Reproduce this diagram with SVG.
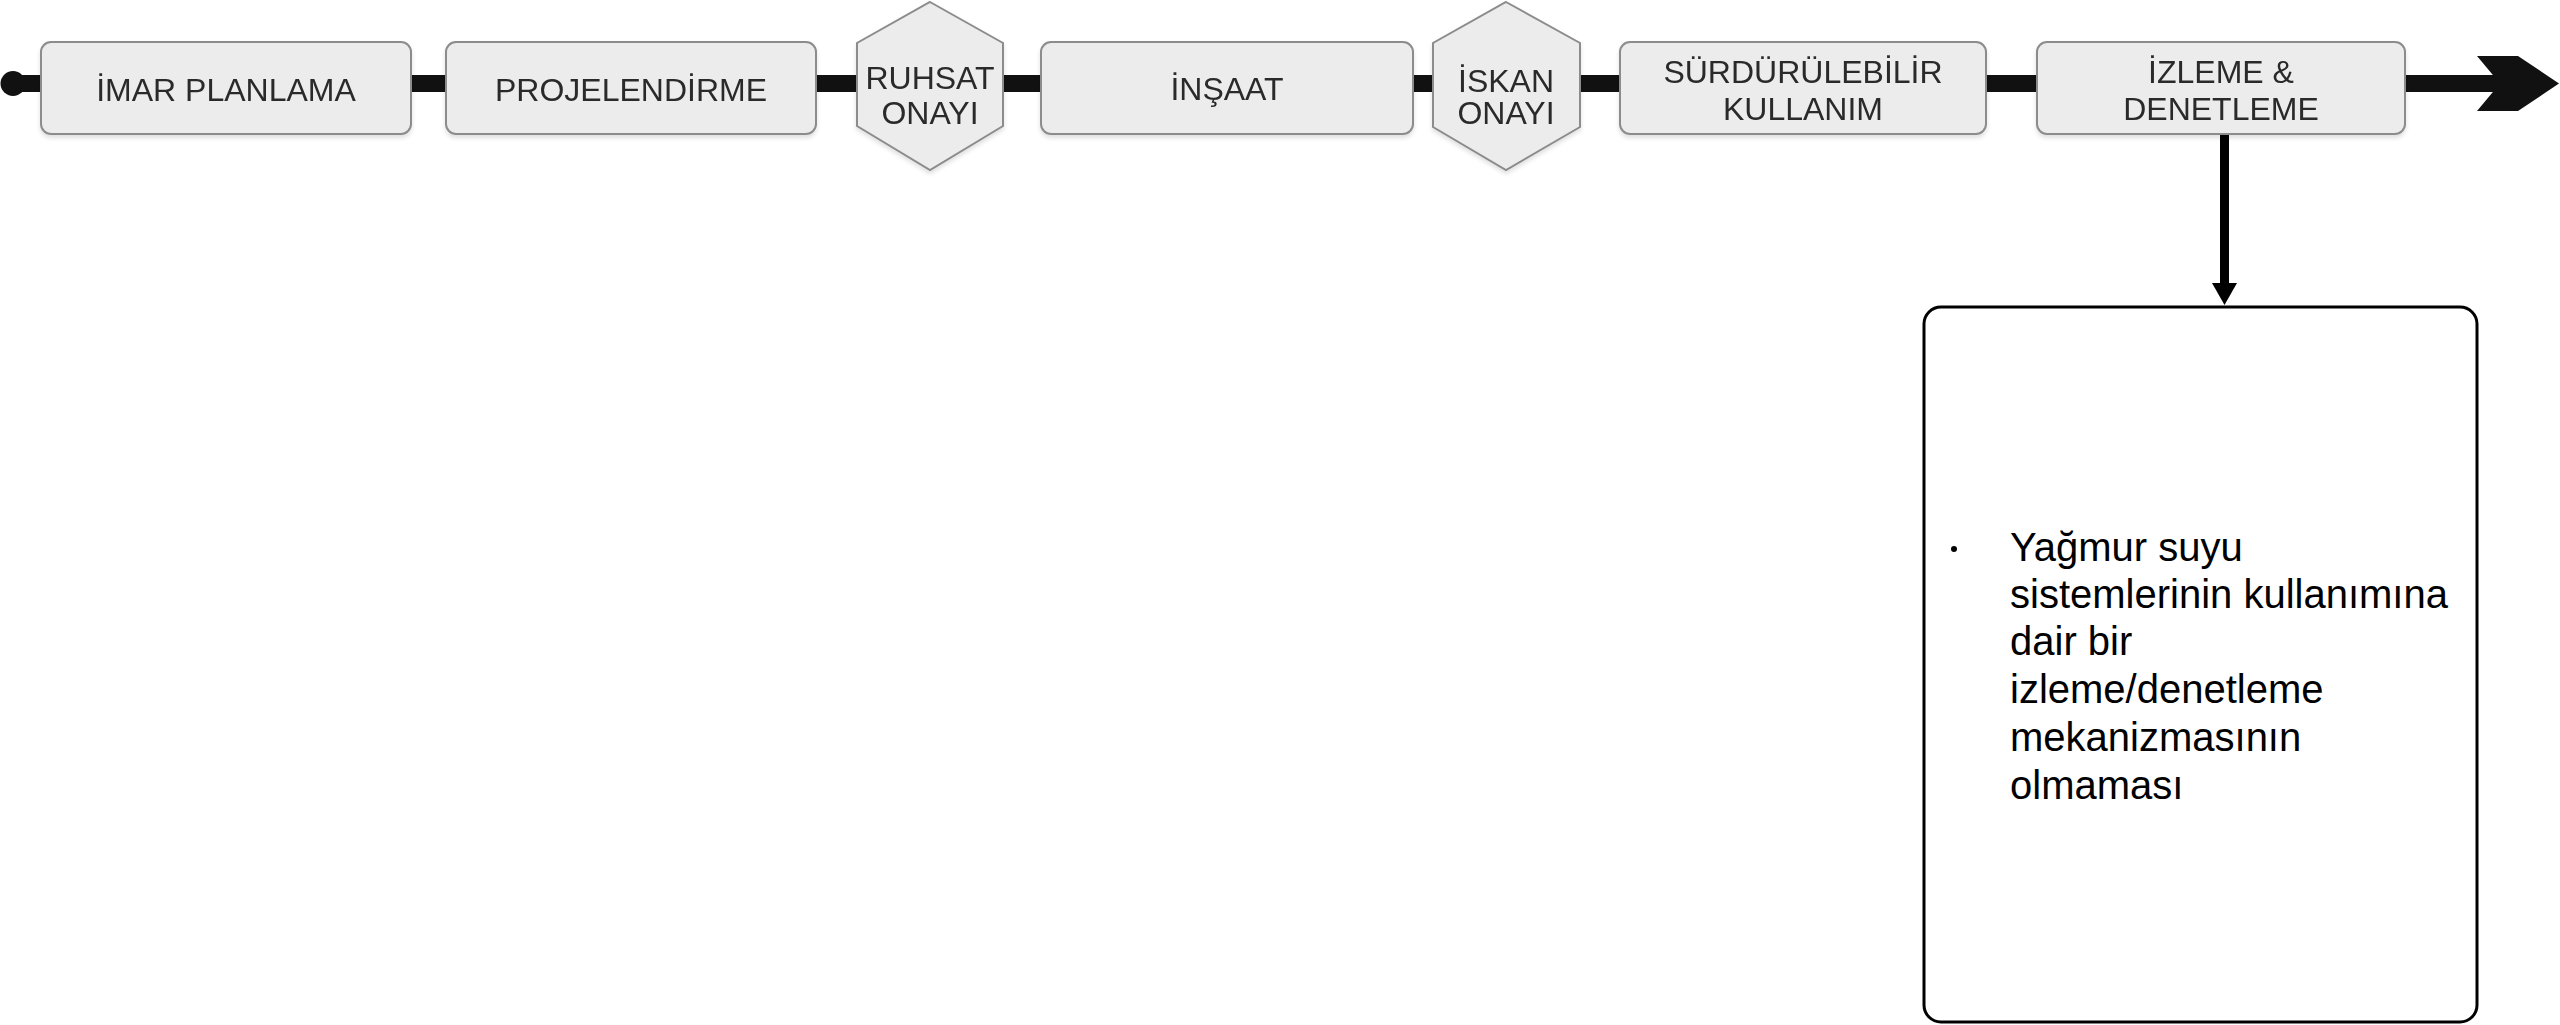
<svg xmlns="http://www.w3.org/2000/svg" width="2560" height="1025" viewBox="0 0 2560 1025">
<style>
.step{fill:#ececec;stroke:#8c8c8c;stroke-width:2}
.lbl{font-family:"Liberation Sans",Arial,sans-serif;font-size:32px;fill:#2b2b2b;text-anchor:middle}
.body{font-family:"Liberation Sans",Arial,sans-serif;font-size:40px;fill:#000}
</style>
<defs>
<filter id="sh" x="-5%" y="-10%" width="110%" height="130%">
<feDropShadow dx="0" dy="3" stdDeviation="2" flood-color="#000" flood-opacity="0.12"/>
</filter>
</defs>
<rect width="2560" height="1025" fill="#fff"/>
<g id="connectors">
<circle cx="13" cy="83.5" r="12.5" fill="#111"/>
<rect x="13" y="75" width="2490" height="17" fill="#111"/>
<polygon points="2477,56 2518,56 2559,83.5 2518,111 2477,111 2500,83.5" fill="#111"/>
<rect x="2220" y="134" width="9" height="150" fill="#000"/>
<polygon points="2212,283 2237,283 2224.5,305" fill="#000"/>
</g>
<g id="imar" filter="url(#sh)">
<rect class="step" x="41" y="42" width="370" height="92" rx="10"/>
<text class="lbl" x="226" y="101">İMAR PLANLAMA</text>
</g>
<g id="projelendirme" filter="url(#sh)">
<rect class="step" x="446" y="42" width="370" height="92" rx="10"/>
<text class="lbl" x="631" y="101">PROJELENDİRME</text>
</g>
<g id="ruhsat" filter="url(#sh)">
<polygon class="step" points="930,2 1003,43 1003,126 930,170 857,126 857,43"/>
<text class="lbl" x="930" y="89">RUHSAT</text>
<text class="lbl" x="930" y="124">ONAYI</text>
</g>
<g id="insaat" filter="url(#sh)">
<rect class="step" x="1041" y="42" width="372" height="92" rx="10"/>
<text class="lbl" x="1227" y="100">İNŞAAT</text>
</g>
<g id="iskan" filter="url(#sh)">
<polygon class="step" points="1506,2 1580,43 1580,127 1506,170 1433,127 1433,43"/>
<text class="lbl" x="1506" y="92">İSKAN</text>
<text class="lbl" x="1506" y="124">ONAYI</text>
</g>
<g id="surdurulebilir" filter="url(#sh)">
<rect class="step" x="1620" y="42" width="366" height="92" rx="10"/>
<text class="lbl" x="1803" y="83">SÜRDÜRÜLEBİLİR</text>
<text class="lbl" x="1803" y="120">KULLANIM</text>
</g>
<g id="izleme" filter="url(#sh)">
<rect class="step" x="2037" y="42" width="368" height="92" rx="10"/>
<text class="lbl" x="2221" y="83">İZLEME &amp;</text>
<text class="lbl" x="2221" y="120">DENETLEME</text>
</g>
<g id="sorun">
<rect x="1924" y="307" width="553" height="715" rx="17" fill="#fff" stroke="#000" stroke-width="3"/>
<circle cx="1954" cy="549" r="3" fill="#000"/>
<text class="body" x="2010" y="561">Yağmur suyu</text>
<text class="body" x="2010" y="608">sistemlerinin kullanımına</text>
<text class="body" x="2010" y="655">dair bir</text>
<text class="body" x="2010" y="703">izleme/denetleme</text>
<text class="body" x="2010" y="751">mekanizmasının</text>
<text class="body" x="2010" y="799">olmaması</text>
</g>
</svg>
